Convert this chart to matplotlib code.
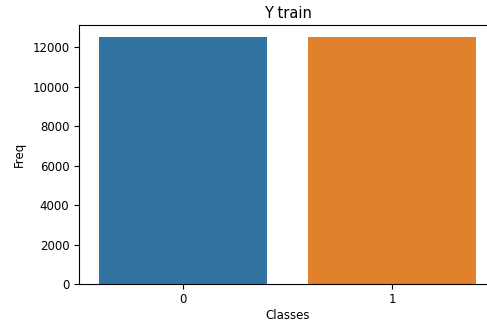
import matplotlib
matplotlib.use("Agg")
import matplotlib.pyplot as plt

classes = ["0", "1"]
freq = [12500, 12500]
colors = ["#3274a1", "#e1812c"]

fig = plt.figure(figsize=(4.87, 3.22), dpi=100)
# axes runs slightly past the right edge, like the cropped reference
ax = fig.add_axes([78.5 / 487, 38 / 322, 418 / 487, 259 / 322])
ax.bar(range(len(classes)), freq, width=0.8, color=colors)
ax.set_xlim(-0.5, 1.5)
ax.set_ylim(0, 13125)
ax.set_xticks(range(len(classes)))
ax.set_xticklabels(classes)
ax.set_yticks(range(0, 12001, 2000))
ax.set_title("Y train", fontsize=10.5, pad=5)
ax.set_xlabel("Classes", fontsize=8.5, labelpad=2)
ax.set_ylabel("Freq", fontsize=8.5, labelpad=5)
ax.tick_params(labelsize=8.5, pad=3)

fig.savefig("out.png", dpi=100)
